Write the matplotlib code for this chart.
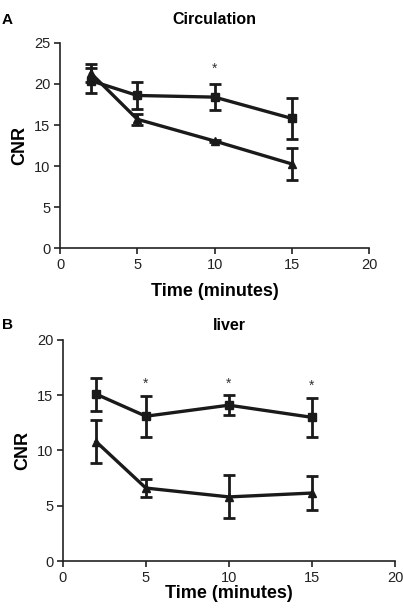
import numpy as np
import matplotlib.pyplot as plt

plt.rcParams['font.family'] = ['Liberation Sans', 'DejaVu Sans']

# data
time = [2, 5, 10, 15]

circ_sq = [20.4, 18.6, 18.4, 15.8]
circ_sq_err = [1.5, 1.65, 1.55, 2.5]
circ_tri = [21.3, 15.7, 13.05, 10.25]
circ_tri_err = [1.1, 0.65, 0.1, 1.9]
circ_stars_x = [10]
circ_stars_y = [21.8]

liver_sq = [15.1, 13.1, 14.1, 13.0]
liver_sq_err = [1.5, 1.85, 0.9, 1.75]
liver_tri = [10.8, 6.6, 5.8, 6.15]
liver_tri_err = [1.95, 0.8, 1.95, 1.5]
liver_stars_x = [5, 10, 15]
liver_stars_y = [16.0, 16.0, 15.9]

fig = plt.figure(figsize=(4.03, 6.14), dpi=100)
axA = fig.add_axes([0.149, 0.596, 0.767, 0.334])
axB = fig.add_axes([0.156, 0.0863, 0.824, 0.360])

def panel(ax, sq, sqe, tri, trie, sx, sy, ymax, title, tpad, xpad, ypad):
    kw = dict(color='#1a1a1a', lw=2.4, elinewidth=2, capsize=4, capthick=2, ms=6)
    ax.errorbar(time, sq, yerr=sqe, marker='s', **kw)
    ax.errorbar(time, tri, yerr=trie, marker='^', **kw)
    for x, y in zip(sx, sy):
        ax.text(x, y, '*', ha='center', va='center', fontsize=10, color='#333333')
    ax.set_xlim(0, 20)
    ax.set_ylim(0, ymax)
    ax.set_xticks([0, 5, 10, 15, 20])
    ax.set_yticks(np.arange(0, ymax + 1, 5))
    for s in ['top', 'right']:
        ax.spines[s].set_visible(False)
    for s in ['left', 'bottom']:
        ax.spines[s].set_linewidth(1.2)
        ax.spines[s].set_color('#222222')
    ax.tick_params(labelsize=10.5, length=4, width=1.2, colors='#222222', pad=3)
    ax.set_xlabel('Time (minutes)', fontsize=13, fontweight='bold', labelpad=xpad)
    ax.set_ylabel('CNR', fontsize=13, fontweight='bold', labelpad=ypad)
    ax.set_title(title, fontsize=11.5, fontweight='bold', pad=tpad)

panel(axA, circ_sq, circ_sq_err, circ_tri, circ_tri_err, circ_stars_x, circ_stars_y, 25, 'Circulation', 14, 8, 4)
panel(axB, liver_sq, liver_sq_err, liver_tri, liver_tri_err, liver_stars_x, liver_stars_y, 20, 'liver', 7, 0, 4)

fig.text(0.005, 0.967, 'A', fontsize=11, fontweight='bold', va='center')
fig.text(0.005, 0.471, 'B', fontsize=11, fontweight='bold', va='center')

fig.savefig('out.png', dpi=100)
